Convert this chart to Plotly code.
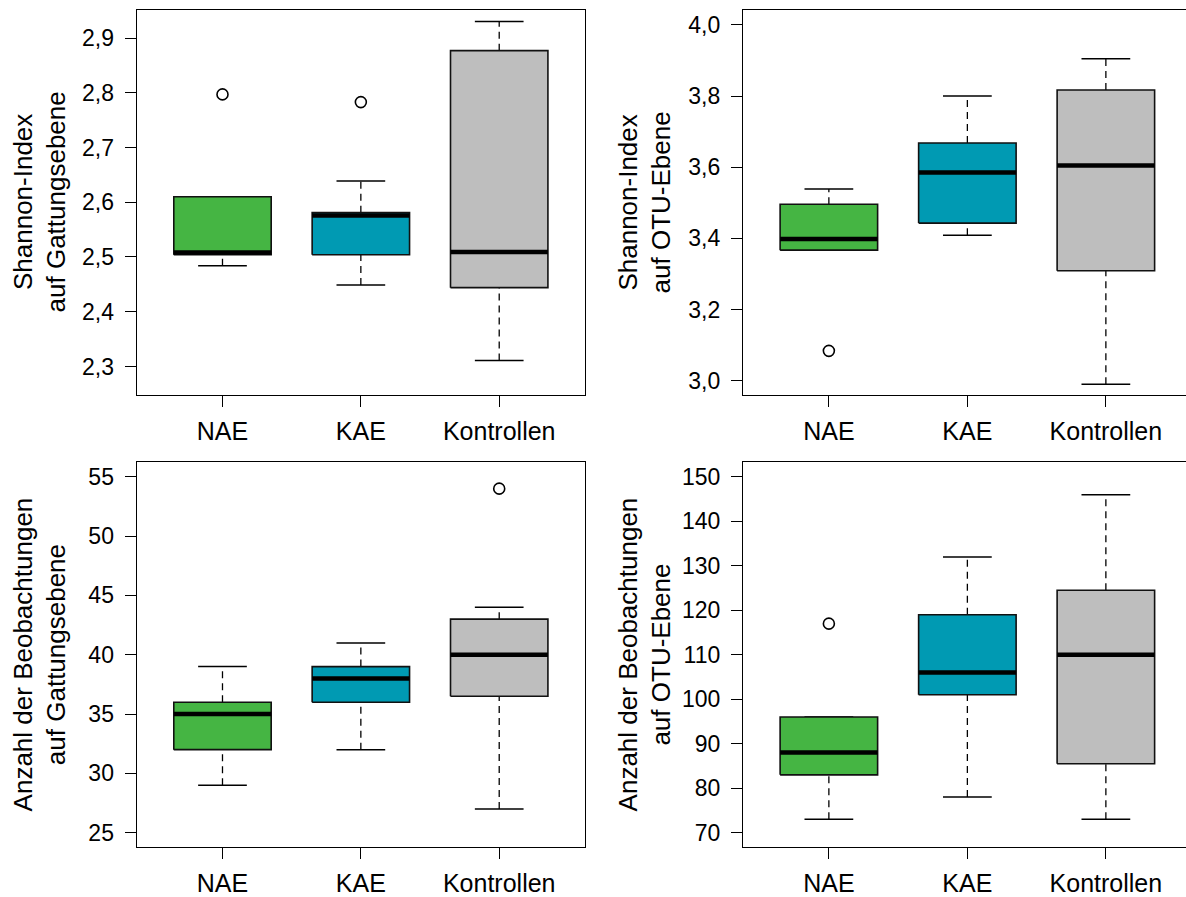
import plotly.graph_objects as go

# ---------------- data ----------------
groups = ["NAE", "KAE", "Kontrollen"]
colors = ["#45B543", "#009AB3", "#BEBEBE"]

# panel 1: Shannon-Index auf Gattungsebene
p1_lo = [2.484, 2.449, 2.311]
p1_q1 = [2.504, 2.504, 2.444]
p1_med = [2.508, 2.576, 2.509]
p1_q3 = [2.610, 2.581, 2.877]
p1_hi = [2.610, 2.639, 2.930]
p1_out = [[2.797], [2.783], []]

# panel 2: Shannon-Index auf OTU-Ebene
p2_lo = [3.367, 3.409, 2.990]
p2_q1 = [3.367, 3.443, 3.309]
p2_med = [3.398, 3.585, 3.605]
p2_q3 = [3.496, 3.668, 3.817]
p2_hi = [3.539, 3.800, 3.905]
p2_out = [[3.084], [], []]

# panel 3: Anzahl der Beobachtungen auf Gattungsebene
p3_lo = [29, 32, 27]
p3_q1 = [32, 36, 36.5]
p3_med = [35, 38, 40]
p3_q3 = [36, 39, 43]
p3_hi = [39, 41, 44]
p3_out = [[], [], [54]]

# panel 4: Anzahl der Beobachtungen auf OTU-Ebene
p4_lo = [73, 78, 73]
p4_q1 = [83, 101, 85.5]
p4_med = [88, 106, 110]
p4_q3 = [96, 119, 124.5]
p4_hi = [96, 132, 146]
p4_out = [[117], [], []]

titles = [
    "Shannon-Index<br>auf Gattungsebene",
    "Shannon-Index<br>auf OTU-Ebene",
    "Anzahl der Beobachtungen<br>auf Gattungsebene",
    "Anzahl der Beobachtungen<br>auf OTU-Ebene",
]

y1_ticks = [2.3, 2.4, 2.5, 2.6, 2.7, 2.8, 2.9]
y1_labels = ["2,3", "2,4", "2,5", "2,6", "2,7", "2,8", "2,9"]
y2_ticks = [3.0, 3.2, 3.4, 3.6, 3.8, 4.0]
y2_labels = ["3,0", "3,2", "3,4", "3,6", "3,8", "4,0"]
y3_ticks = [25, 30, 35, 40, 45, 50, 55]
y3_labels = [str(v) for v in y3_ticks]
y4_ticks = [70, 80, 90, 100, 110, 120, 130, 140, 150]
y4_labels = [str(v) for v in y4_ticks]

y_ranges = [[2.2485, 2.9508], [2.961, 4.041], [23.83, 56.23], [66.87, 153.3]]
# right-hand panels run past the image edge in the reference (clipped)
x_ranges = [[0.38, 3.62], [0.38, 0.38 + (1186 - 743) / 138.5]]

panels = [
    (p1_lo, p1_q1, p1_med, p1_q3, p1_hi, p1_out, y1_ticks, y1_labels),
    (p2_lo, p2_q1, p2_med, p2_q3, p2_hi, p2_out, y2_ticks, y2_labels),
    (p3_lo, p3_q1, p3_med, p3_q3, p3_hi, p3_out, y3_ticks, y3_labels),
    (p4_lo, p4_q1, p4_med, p4_q3, p4_hi, p4_out, y4_ticks, y4_labels),
]

# ---------------- layout geometry ----------------
W, H = 1186, 897
x_doms = [[136.7 / W, 585 / W], [743 / W, 1.0]]
y_doms = [[1 - 397.3 / H, 1 - 10.3 / H], [1 - 852.3 / H, 1 - 465.3 / H]]
half_box = 0.352
half_cap = 0.176
FONT = "Liberation Sans, Arial, sans-serif"

fig = go.Figure()

for i, (lo, q1, med, q3, hi, outs, yt, yl) in enumerate(panels):
    ax = "" if i == 0 else str(i + 1)
    xr, yr = "x" + ax, "y" + ax
    pos = list(range(1, len(groups) + 1))

    # dashed whiskers
    wx, wy = [], []
    for c, a, b, d, e in zip(pos, lo, q1, q3, hi):
        wx += [c, c, None, c, c, None]
        wy += [a, b, None, d, e, None]
    fig.add_trace(go.Scatter(x=wx, y=wy, mode="lines", xaxis=xr, yaxis=yr,
                             line=dict(color="black", width=1.3, dash="7px,5px"),
                             hoverinfo="skip"))
    # caps
    cx, cy = [], []
    for c, a, e in zip(pos, lo, hi):
        cx += [c - half_cap, c + half_cap, None, c - half_cap, c + half_cap, None]
        cy += [a, a, None, e, e, None]
    fig.add_trace(go.Scatter(x=cx, y=cy, mode="lines", xaxis=xr, yaxis=yr,
                             line=dict(color="black", width=1.5), hoverinfo="skip"))
    # boxes
    for c, b, d, col in zip(pos, q1, q3, colors):
        fig.add_trace(go.Scatter(
            x=[c - half_box, c + half_box, c + half_box, c - half_box, c - half_box],
            y=[b, b, d, d, b], mode="lines", fill="toself", fillcolor=col,
            xaxis=xr, yaxis=yr, line=dict(color="#111111", width=1.6),
            hoverinfo="skip"))
    # medians
    mx, my = [], []
    for c, m in zip(pos, med):
        mx += [c - half_box, c + half_box, None]
        my += [m, m, None]
    fig.add_trace(go.Scatter(x=mx, y=my, mode="lines", xaxis=xr, yaxis=yr,
                             line=dict(color="black", width=4.5), hoverinfo="skip"))
    # outliers
    ox, oy = [], []
    for c, o in zip(pos, outs):
        for v in o:
            ox.append(c)
            oy.append(v)
    if ox:
        fig.add_trace(go.Scatter(x=ox, y=oy, mode="markers", xaxis=xr, yaxis=yr,
                                 marker=dict(symbol="circle-open", size=11,
                                             color="black", line=dict(width=1.6)),
                                 hoverinfo="skip"))

    col_i, row_i = i % 2, i // 2
    common = dict(showgrid=False, zeroline=False, showline=True,
                  linecolor="black", linewidth=1.3, ticks="outside", ticklen=11,
                  tickwidth=1.3, tickcolor="black")
    fig.layout["xaxis" + ax] = dict(
        domain=x_doms[col_i], anchor=yr, range=x_ranges[col_i], mirror=True,
        tickmode="array", tickvals=pos, ticktext=groups,
        tickfont=dict(family=FONT, size=25, color="black"),
        ticklabelstandoff=3, **common)
    fig.layout["yaxis" + ax] = dict(
        domain=y_doms[row_i], anchor=xr, range=y_ranges[i],
        mirror=(col_i == 0),  # right border of right panels is cut off
        tickmode="array", tickvals=yt, ticktext=yl,
        tickfont=dict(family=FONT, size=23, color="black"),
        ticklabelstandoff=6, **common)

    title_x = [40, 645][col_i] / W
    fig.add_annotation(text=titles[i], textangle=-90, xref="paper", yref="paper",
                       x=title_x, y=(y_doms[row_i][0] + y_doms[row_i][1]) / 2,
                       xanchor="center", yanchor="middle", showarrow=False,
                       font=dict(family=FONT, size=26, color="black"))

fig.update_layout(width=W, height=H, margin=dict(l=0, r=0, t=0, b=0),
                  paper_bgcolor="white", plot_bgcolor="white", showlegend=False,
                  font=dict(family=FONT, color="black"))

fig.write_html("out.html", config={"displayModeBar": False},
               post_script="document.documentElement.style.margin='0';"
                           "document.documentElement.style.overflow='hidden';"
                           "document.body.style.margin='0';"
                           "document.body.style.padding='0';"
                           "document.body.style.overflow='hidden';"
                           "var d=document.getElementById('{plot_id}');"
                           "d.style.position='absolute';d.style.top='0px';"
                           "d.style.left='0px';")
